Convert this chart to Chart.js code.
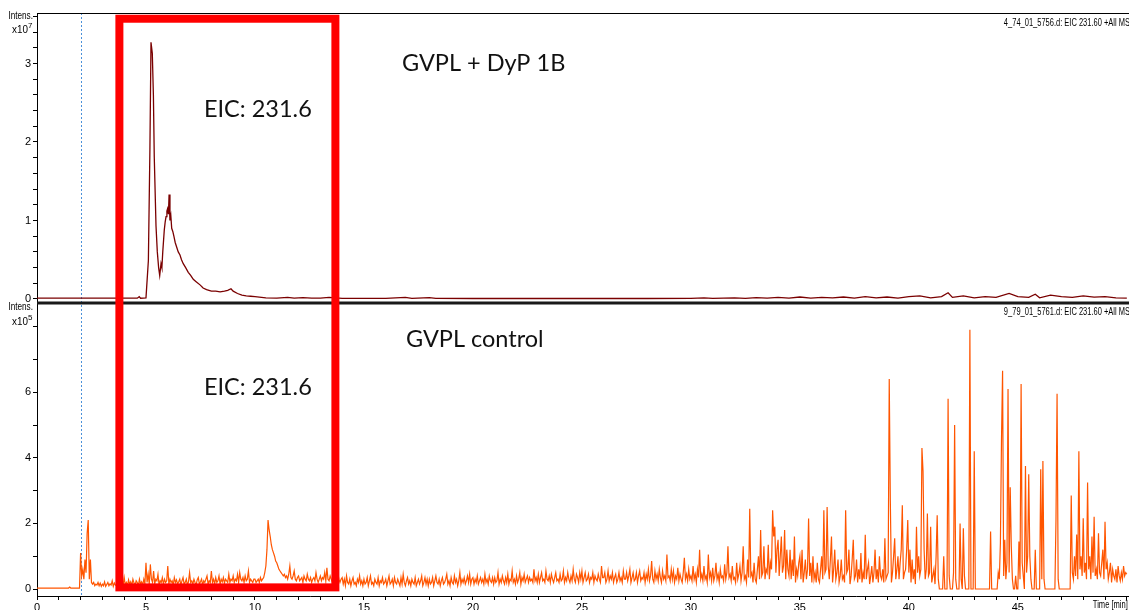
<!DOCTYPE html>
<html>
<head>
<meta charset="utf-8">
<script src="https://cdn.jsdelivr.net/npm/chart.js@4.4.1/dist/chart.umd.min.js"></script>
<style>
  html, body { margin: 0; padding: 0; background: #fff; }
  #wrap { width: 1129px; height: 610px; }
</style>
</head>
<body>
<div id="wrap"><canvas id="eic" width="1129" height="610"></canvas></div>
<script>
// retention time (min) and intensity (x10^7) for GVPL + DyP 1B
const dypTimes = [
  0, 1.0, 2.0, 3.0, 4.0, 4.6, 4.69, 4.75, 5.0, 5.11,
  5.18, 5.23, 5.29, 5.34, 5.38, 5.46, 5.52, 5.58, 5.63, 5.69,
  5.73, 5.77, 5.84, 5.88, 5.92, 5.96, 5.99, 6.03, 6.06, 6.1,
  6.14, 6.18, 6.23, 6.28, 6.34, 6.41, 6.48, 6.56, 6.63, 6.71,
  6.82, 6.94, 7.05, 7.17, 7.3, 7.48, 7.62, 7.78, 8.0, 8.2,
  8.4, 8.6, 8.75, 8.9, 9.0, 9.2, 9.4, 9.6, 9.8, 10.0,
  10.5, 11.0, 11.5, 11.8, 12.2, 12.6, 13.0, 13.4, 14.0, 15.0,
  16.0, 16.9, 17.2, 18.0, 18.3, 20.0, 22.0, 24.0, 26.0, 28.0,
  30.0, 30.6, 31.0, 32.0, 32.5, 33.0, 33.5, 34.0, 34.5, 35.0,
  35.5, 36.0, 36.5, 37.0, 37.5, 38.0, 38.5, 39.0, 39.5, 40.0,
  40.5, 41.0, 41.5, 41.8, 42.0, 42.5, 43.0, 43.5, 44.0, 44.6,
  45.0, 45.5, 45.8, 46.0, 46.5, 47.0, 47.5, 48.0, 48.5, 49.0,
  49.5, 50.0
];
const dypValues = [
  0.01, 0.01, 0.01, 0.01, 0.01, 0.01, 0.03, 0.01, 0.015, 0.49,
  1.9, 3.27, 3.13, 2.6, 1.81, 0.93, 0.6, 0.4, 0.3, 0.45,
  0.4, 0.6, 0.88, 0.98, 1.05, 1.12, 1.15, 1.08, 1.33, 1.0,
  1.06, 0.9, 0.86, 0.8, 0.72, 0.66, 0.6, 0.56, 0.5, 0.45,
  0.4, 0.34, 0.3, 0.25, 0.22, 0.18, 0.14, 0.12, 0.1, 0.1,
  0.09, 0.1, 0.11, 0.13, 0.1, 0.07, 0.05, 0.04, 0.035, 0.03,
  0.015, 0.01, 0.02, 0.012, 0.018, 0.01, 0.012, 0.02, 0.008, 0.008,
  0.008, 0.02, 0.008, 0.018, 0.007, 0.006, 0.006, 0.006, 0.006, 0.006,
  0.007, 0.015, 0.007, 0.015, 0.008, 0.018, 0.01, 0.02, 0.012, 0.025,
  0.01, 0.02, 0.015, 0.025, 0.012, 0.03, 0.015, 0.025, 0.012, 0.03,
  0.04, 0.015, 0.03, 0.08, 0.02, 0.04, 0.015, 0.03, 0.02, 0.07,
  0.03, 0.02, 0.06, 0.015, 0.05, 0.03, 0.02, 0.04, 0.025, 0.03,
  0.015, 0.01
];

// GVPL control, one sample every 0.05 min from 0 min, intensity x10^5 (one row per minute)
const ctrlStart = 0;
const ctrlStep = 0.05;
const ctrlValues = [
  0.03,0.03,0.03,0.03,0.03,0.03,0.03,0.03,0.03,0.03, 0.03,0.03,0.03,0.03,0.03,0.03,0.03,0.03,0.03,0.03,
  0.03,0.03,0.03,0.03,0.03,0.03,0.03,0.03,0.03,0.03, 0.06,0.03,0.03,0.03,0.03,0.03,0.03,0.03,0.03,0.03,
  1.1,0.4,0.6,0.3,0.9,0.5,1.7,2.1,0.3,0.9, 0.2,0.15,0.2,0.1,0.15,0.12,0.2,0.1,0.18,0.08,
  0.15,0.1,0.22,0.08,0.14,0.2,0.1,0.16,0.12,0.25, 0.08,0.18,0.12,0.1,0.2,0.15,0.3,0.1,0.18,0.12,
  0.35,0.12,0.2,0.1,0.28,0.15,0.22,0.1,0.3,0.18, 0.12,0.25,0.2,0.1,0.3,0.15,0.22,0.12,0.3,0.15,
  0.8,0.2,0.45,0.15,0.75,0.3,0.2,0.55,0.15,0.3, 0.25,0.45,0.12,0.25,0.2,0.35,0.15,0.3,0.2,0.25,
  0.7,0.15,0.3,0.2,0.25,0.12,0.35,0.2,0.28,0.15, 0.22,0.3,0.12,0.25,0.35,0.15,0.2,0.3,0.12,0.22,
  0.5,0.2,0.25,0.15,0.3,0.2,0.12,0.28,0.35,0.15, 0.22,0.3,0.12,0.25,0.2,0.3,0.4,0.15,0.25,0.2,
  0.55,0.2,0.3,0.15,0.35,0.2,0.25,0.4,0.15,0.3, 0.22,0.35,0.18,0.3,0.25,0.2,0.45,0.2,0.3,0.25,
  0.4,0.2,0.3,0.25,0.45,0.2,0.5,0.3,0.25,0.35, 0.2,0.4,0.25,0.3,0.55,0.2,0.3,0.25,0.2,0.3,
  0.3,0.2,0.25,0.3,0.2,0.35,0.25,0.3,0.35,0.5, 0.7,1.2,2.1,1.8,1.6,1.35,1.2,1.1,1.0,0.85,
  0.8,0.7,0.6,0.55,0.5,0.45,0.4,0.45,0.35,0.4, 0.3,0.45,0.7,0.35,0.3,0.4,0.55,0.3,0.25,0.35,
  0.4,0.25,0.3,0.35,0.2,0.4,0.3,0.25,0.45,0.3, 0.25,0.35,0.2,0.3,0.35,0.25,0.5,0.3,0.2,0.3,
  0.4,0.25,0.35,0.3,0.5,0.25,0.65,0.3,0.25,0.4, 0.3,0.2,0.35,0.3,0.25,0.4,0.5,0.3,0.2,0.3,
  0.35,0.15,0.3,0.1,0.4,0.2,0.15,0.3,0.1,0.25, 0.35,0.15,0.2,0.1,0.3,0.2,0.4,0.15,0.25,0.1,
  0.3,0.15,0.2,0.35,0.1,0.25,0.4,0.15,0.2,0.1, 0.3,0.2,0.15,0.35,0.1,0.25,0.2,0.35,0.15,0.2,
  0.3,0.1,0.25,0.4,0.15,0.2,0.3,0.1,0.35,0.2, 0.15,0.3,0.2,0.1,0.35,0.15,0.45,0.2,0.1,0.25,
  0.35,0.15,0.25,0.1,0.3,0.2,0.15,0.35,0.1,0.2, 0.3,0.15,0.25,0.4,0.1,0.2,0.35,0.15,0.3,0.1,
  0.3,0.15,0.2,0.35,0.1,0.25,0.4,0.2,0.15,0.3, 0.1,0.25,0.35,0.15,0.2,0.3,0.45,0.15,0.25,0.1,
  0.35,0.2,0.15,0.4,0.2,0.3,0.1,0.25,0.5,0.15, 0.3,0.2,0.35,0.15,0.25,0.4,0.2,0.45,0.15,0.3,
  0.35,0.15,0.3,0.2,0.4,0.15,0.25,0.35,0.2,0.3, 0.15,0.45,0.2,0.3,0.15,0.4,0.25,0.2,0.35,0.15,
  0.35,0.2,0.25,0.5,0.15,0.3,0.2,0.4,0.25,0.15, 0.35,0.2,0.45,0.15,0.3,0.25,0.55,0.2,0.3,0.15,
  0.4,0.2,0.3,0.5,0.15,0.35,0.25,0.45,0.2,0.3, 0.4,0.2,0.35,0.25,0.3,0.2,0.6,0.25,0.35,0.2,
  0.45,0.2,0.35,0.5,0.25,0.3,0.2,0.55,0.3,0.25, 0.4,0.2,0.45,0.3,0.2,0.35,0.5,0.25,0.3,0.2,
  0.45,0.25,0.3,0.55,0.2,0.35,0.25,0.5,0.3,0.2, 0.4,0.25,0.6,0.3,0.2,0.45,0.35,0.2,0.5,0.3,
  0.55,0.2,0.35,0.5,0.25,0.3,0.45,0.2,0.35,0.3, 0.5,0.2,0.4,0.3,0.25,0.45,0.3,0.2,0.7,0.35,
  0.35,0.5,0.2,0.3,0.55,0.25,0.4,0.3,0.5,0.2, 0.35,0.45,0.2,0.3,0.5,0.25,0.35,0.2,0.55,0.3,
  0.3,0.5,0.25,0.4,0.6,0.2,0.35,0.5,0.25,0.3, 0.5,0.2,0.4,0.55,0.25,0.35,0.3,0.5,0.2,0.45,
  0.3,0.6,0.25,0.4,0.85,0.3,0.2,0.55,0.3,0.45, 0.25,0.6,0.35,0.2,0.55,0.3,0.4,0.25,1.05,0.35,
  0.4,0.25,0.6,0.3,0.55,0.2,0.4,0.3,0.65,0.25, 0.45,0.3,0.2,0.5,0.95,0.3,0.45,0.25,0.6,0.3,
  0.4,0.25,0.7,0.3,0.45,0.2,0.6,0.35,1.2,0.3, 0.45,0.25,0.7,0.3,0.4,0.2,1.05,0.35,0.5,0.25,
  0.65,0.25,0.4,0.8,0.3,0.45,0.2,0.6,0.35,0.4, 0.25,0.75,0.3,0.5,1.3,0.35,0.45,0.25,0.7,0.3,
  0.35,0.2,0.8,0.3,0.45,0.7,0.25,0.5,1.3,0.3, 0.4,0.2,0.9,0.35,2.45,0.4,0.5,0.2,0.8,0.3,
  0.2,0.6,1.0,0.3,1.8,0.4,0.5,1.3,0.3,0.6, 0.5,1.35,0.3,0.8,0.6,2.4,1.6,1.9,0.5,1.2,
  1.5,0.4,1.0,1.6,0.5,0.7,1.8,0.3,1.2,0.6, 0.4,1.2,0.3,0.9,0.4,1.6,0.2,0.6,0.4,0.8,
  1.0,0.3,1.2,0.2,0.5,0.9,0.3,0.6,2.15,0.4, 0.8,0.2,1.0,0.3,0.5,0.2,0.8,0.3,0.2,0.6,
  1.0,0.3,2.4,0.5,0.6,2.5,0.7,0.3,0.9,1.6, 0.2,0.6,1.2,0.3,0.5,0.9,0.2,0.4,0.9,0.3,
  0.4,0.2,2.4,0.5,0.6,1.2,0.15,0.4,0.9,1.5, 0.3,0.4,0.9,0.2,0.6,0.3,1.1,0.2,0.5,0.3,
  1.65,0.3,0.6,0.8,0.15,0.4,0.7,0.2,0.5,1.2, 0.3,0.6,0.2,1.0,0.4,0.3,0.6,0.2,1.55,0.3,
  0.4,0.5,6.4,2.7,0.2,0.5,1.0,1.55,0.3,0.6, 1.0,0.3,0.8,1.2,2.55,0.3,0.5,0.6,1.2,2.1,
  0.5,1.2,0.2,0.9,0.3,0.6,0.15,1.9,0.5,1.0, 0.4,0.6,4.3,3.6,1.2,0.3,0.6,2.3,0.4,0.5,
  1.9,0.2,0.4,0.6,0.15,1.0,2.25,0.3,0,0, 0,0,1.0,0,0,0,5.8,0.4,0,0,
  0,0.5,5.0,0.3,0,0,0,2.0,0.3,0, 1.85,0.4,0,0,0,0,7.9,0,0,0,
  4.2,0,0,0,0,0,0,0,0,0, 0,0,0,0,0,1.75,0,0,0,0,
  0,0,0.5,0.3,1.4,4.55,6.65,0.4,1.5,0.3, 0.8,6.1,0.5,3.1,1.3,0.3,0,0,0.4,0,
  0,1.45,0.3,6.25,0.8,0.4,0,3.75,0.5,1.0, 3.5,1.0,0.3,0,0,0,1.2,0,0,0,
  0,3.65,0.3,3.9,0.3,0,0,0,0,0, 0,0,0,0,0,2.1,5.95,0.3,0,0,
  0,0,0,0,0,0,0,0,0,2.85, 0.5,0.3,1.0,0.4,1.66,0.3,4.2,0.6,1.0,0.4,
  2.16,0.5,0.8,0.3,3.25,0.6,1.0,0.3,1.6,0.5, 2.2,0.4,0.6,0.3,1.7,0.5,0.4,0.8,1.2,0.3,
  2.05,0.6,0.8,0.3,0.5,0.8,0.2,0.6,0.4,0.3, 0.6,0.2,0.7,0.4,0.25,0.5,0.3,0.7,0.4,0.5,
  0.45
];

// axis ticks
const timeTicks = [0,1,2,3,4,5,6,7,8,9,10,11,12,13,14,15,16,17,18,19,20,21,22,23,24,25,
  26,27,28,29,30,31,32,33,34,35,36,37,38,39,40,41,42,43,44,45,46,47,48,49,50];
const timeLabels = [0, 5, 10, 15, 20, 25, 30, 35, 40, 45];
const topTicks = [0,0.2,0.4,0.6,0.8,1,1.2,1.4,1.6,1.8,2,2.2,2.4,2.6,2.8,3,3.2,3.4,3.6];
const topLabels = [0, 1, 2, 3];
const botTicks = [0, 1, 2, 3, 4, 5, 6, 7, 8];
const botLabels = [0, 2, 4, 6];

const sampleStart = 2.0; // dashed marker
const boxTimes = [3.78, 13.69];
const boxTop = 3.57;   // on top axis (x10^7)
const boxBottom = 0.05; // on bottom axis (x10^5)

const notes = [
  { text: "GVPL + DyP 1B", t: 16.75, y: 3.0, axis: "yTop" },
  { text: "EIC: 231.6", t: 7.66, y: 2.42, axis: "yTop" },
  { text: "GVPL control", t: 16.93, y: 7.62, axis: "yBot" },
  { text: "EIC: 231.6", t: 7.66, y: 6.16, axis: "yBot" },
];

const smallFont = "'Liberation Sans', Arial, sans-serif";
const noteFont = "Lato, 'Noto Sans', sans-serif";

function hasLabel(list, v) {
  return list.some((l) => Math.abs(l - v) < 1e-6);
}

// condensed text, like the instrument software's narrow font
function narrowText(ctx, text, x, y, sx) {
  ctx.save();
  ctx.translate(x, y);
  ctx.scale(sx, 1);
  ctx.fillText(text, 0, 0);
  ctx.restore();
}

const decor = {
  id: "decor",
  beforeDatasetsDraw(chart) {
    const { ctx, chartArea, scales } = chart;
    const px = Math.round(scales.x.getPixelForValue(sampleStart)) + 0.5;
    ctx.save();
    ctx.strokeStyle = "#4a90d9";
    ctx.lineWidth = 1;
    ctx.setLineDash([2, 2]);
    ctx.beginPath();
    ctx.moveTo(px, chartArea.top);
    ctx.lineTo(px, chartArea.bottom);
    ctx.stroke();
    ctx.restore();
  },
  afterDatasetsDraw(chart) {
    const { ctx, chartArea, scales } = chart;
    const x = scales.x;
    const yT = scales.yTop;
    const yB = scales.yBot;
    ctx.save();

    // frame lines
    ctx.strokeStyle = "#000";
    ctx.lineWidth = 1;
    ctx.beginPath();
    ctx.moveTo(chartArea.left, chartArea.top + 0.5);
    ctx.lineTo(chartArea.right, chartArea.top + 0.5);
    ctx.stroke();
    ctx.strokeStyle = "#1a1a1a";
    ctx.lineWidth = 3;
    const sep = Math.round(yT.bottom) + 1;
    ctx.beginPath();
    ctx.moveTo(chartArea.left, sep);
    ctx.lineTo(chartArea.right, sep);
    ctx.stroke();

    // highlight box
    const x1 = x.getPixelForValue(boxTimes[0]);
    const x2 = x.getPixelForValue(boxTimes[1]);
    const y1 = yT.getPixelForValue(boxTop);
    const y2 = yB.getPixelForValue(boxBottom);
    ctx.strokeStyle = "#ff0000";
    ctx.lineWidth = 8;
    ctx.strokeRect(x1, y1, x2 - x1, y2 - y1);

    // annotations
    ctx.fillStyle = "#111";
    ctx.textBaseline = "middle";
    ctx.textAlign = "left";
    ctx.font = "23.5px " + noteFont;
    notes.forEach((n) => {
      const sc = scales[n.axis];
      ctx.fillText(n.text, x.getPixelForValue(n.t), sc.getPixelForValue(n.y));
    });

    // small labels
    ctx.fillStyle = "#000";
    ctx.font = "10px " + smallFont;
    ctx.textAlign = "right";
    narrowText(ctx, "4_74_01_5756.d: EIC 231.60 +All MS", chartArea.right + 1, chartArea.top + 10, 0.75);
    narrowText(ctx, "9_79_01_5761.d: EIC 231.60 +All MS", chartArea.right + 1, yB.top + 11, 0.75);

    const axisLabel = (top, exp) => {
      ctx.font = "10px " + smallFont;
      ctx.textAlign = "right";
      narrowText(ctx, "Intens.", 33, top, 0.82);
      ctx.font = "11px " + smallFont;
      narrowText(ctx, "x10", 28, top + 14, 0.9);
      ctx.font = "8px " + smallFont;
      ctx.textAlign = "left";
      ctx.fillText(exp, 28, top + 10);
    };
    axisLabel(yT.top + 3, "7");
    axisLabel(yB.top + 6, "5");

    ctx.font = "10.5px " + smallFont;
    ctx.textAlign = "right";
    narrowText(ctx, "Time [min]", x.getPixelForValue(50) + 1, chartArea.bottom + 9, 0.72);
    ctx.restore();
  },
};

const axisGrid = {
  drawOnChartArea: false,
  drawTicks: true,
  tickLength: 4,
  color: "#000",
};

new Chart(document.getElementById("eic"), {
  type: "line",
  data: {
    datasets: [
      {
        label: "GVPL + DyP 1B",
        data: dypTimes.map((t, i) => ({ x: t, y: dypValues[i] })),
        yAxisID: "yTop",
        borderColor: "#7a0000",
        borderWidth: 1.3,
        pointRadius: 0,
        tension: 0,
      },
      {
        label: "GVPL control",
        data: ctrlValues.map((v, i) => ({ x: ctrlStart + i * ctrlStep, y: v })),
        yAxisID: "yBot",
        borderColor: "#ff5500",
        borderWidth: 1.2,
        pointRadius: 0,
        tension: 0,
      },
    ],
  },
  options: {
    responsive: false,
    devicePixelRatio: 1,
    animation: false,
    layout: { padding: { top: 13, left: 0, right: 0, bottom: 0 } },
    plugins: {
      legend: { display: false },
      tooltip: { enabled: false },
    },
    scales: {
      x: {
        type: "linear",
        position: "bottom",
        min: 0,
        max: 50.1,
        afterBuildTicks: (s) => {
          s.ticks = timeTicks.map((v) => ({ value: v }));
        },
        afterFit: (s) => {
          s.height = 14;
        },
        ticks: {
          autoSkip: false,
          maxRotation: 0,
          padding: 1,
          color: "#000",
          font: { family: smallFont, size: 11 },
          callback: (v) => (hasLabel(timeLabels, v) ? String(v) : ""),
        },
        grid: axisGrid,
        border: { color: "#000", width: 1 },
      },
      yBot: {
        type: "linear",
        position: "left",
        stack: "eic",
        stackWeight: 294.5,
        min: -0.213,
        max: 8.765,
        afterBuildTicks: (s) => {
          s.ticks = botTicks.map((v) => ({ value: v }));
        },
        afterFit: (s) => {
          s.width = 37;
        },
        ticks: {
          autoSkip: false,
          padding: 2,
          color: "#000",
          font: { family: smallFont, size: 11 },
          callback: (v) => (hasLabel(botLabels, v) ? String(v) : ""),
        },
        grid: axisGrid,
        border: { color: "#000", width: 1 },
      },
      yTop: {
        type: "linear",
        position: "left",
        stack: "eic",
        stackWeight: 288.5,
        min: -0.032,
        max: 3.643,
        afterBuildTicks: (s) => {
          s.ticks = topTicks.map((v) => ({ value: v }));
        },
        afterFit: (s) => {
          s.width = 37;
        },
        ticks: {
          autoSkip: false,
          padding: 2,
          color: "#000",
          font: { family: smallFont, size: 11 },
          callback: (v) => (hasLabel(topLabels, v) ? String(v) : ""),
        },
        grid: axisGrid,
        border: { color: "#000", width: 1 },
      },
    },
  },
  plugins: [decor],
});
</script>
</body>
</html>
